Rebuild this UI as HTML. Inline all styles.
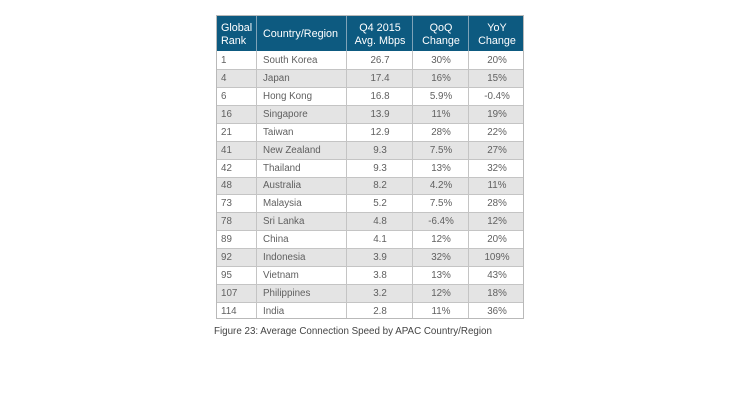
<!DOCTYPE html>
<html>
<head>
<meta charset="utf-8">
<style>
  html,body{margin:0;padding:0;background:#fff;}
  body{width:740px;height:400px;position:relative;overflow:hidden;font-family:"Liberation Sans",sans-serif;}
  .tbl{position:absolute;left:216px;top:15px;width:308px;height:304px;border:1px solid #b9b9b9;box-sizing:border-box;}
  .hdr{position:absolute;left:0;top:0;width:100%;height:35px;background:#0d5a80;}
  .cell{position:absolute;display:flex;align-items:center;box-sizing:border-box;font-size:9.8px;color:#606060;}
  .h{color:#fff;font-size:10.8px;line-height:13px;padding-top:2px;}
  .row{position:absolute;left:0;width:100%;box-sizing:border-box;border-top:1px solid #c4c4c4;}
  .g{background:#e4e4e4;}
  .vl{position:absolute;top:0;width:1px;height:100%;background:#c4c4c4;}
  .vlh{position:absolute;top:0;width:1px;height:35px;background:#7fa3b8;}
  .cap{position:absolute;left:214px;top:326px;font-size:9.8px;color:#444;}
</style>
</head>
<body>
<div class="tbl" id="t"></div>
<div class="cap">Figure 23: Average Connection Speed by APAC Country/Region</div>
<script>
(function(){
  var t=document.getElementById('t');
  var cols=[0,40,130,196,252,308];
  var h='';
  h+='<div class="hdr"></div>';
  var rows=[
   ["1","South Korea","26.7","30%","20%"],
   ["4","Japan","17.4","16%","15%"],
   ["6","Hong Kong","16.8","5.9%","-0.4%"],
   ["16","Singapore","13.9","11%","19%"],
   ["21","Taiwan","12.9","28%","22%"],
   ["41","New Zealand","9.3","7.5%","27%"],
   ["42","Thailand","9.3","13%","32%"],
   ["48","Australia","8.2","4.2%","11%"],
   ["73","Malaysia","5.2","7.5%","28%"],
   ["78","Sri Lanka","4.8","-6.4%","12%"],
   ["89","China","4.1","12%","20%"],
   ["92","Indonesia","3.9","32%","109%"],
   ["95","Vietnam","3.8","13%","43%"],
   ["107","Philippines","3.2","12%","18%"],
   ["114","India","2.8","11%","36%"]
  ];
  var rh=269/15;
  for(var i=0;i<rows.length;i++){
    var top=35+i*rh;
    h+='<div class="row'+(i%2==1?' g':'')+'" style="top:'+top+'px;height:'+rh+'px;'+(i==0?'border-top:none;':'')+'"></div>';
    for(var c=0;c<5;c++){
      var al=c<2?'justify-content:flex-start;padding-left:'+(c==0?4:6)+'px;':'justify-content:center;';
      h+='<div class="cell" style="left:'+cols[c]+'px;width:'+(cols[c+1]-cols[c])+'px;top:'+(top+0.5)+'px;height:'+rh+'px;'+al+'">'+rows[i][c]+'</div>';
    }
  }
  for(var c=1;c<5;c++){
    h+='<div class="vl" style="left:'+(cols[c]-1)+'px"></div>';
    h+='<div class="vlh" style="left:'+(cols[c]-1)+'px"></div>';
  }
  var hd=["Global<br>Rank","Country/Region","Q4 2015<br>Avg. Mbps","QoQ<br>Change","YoY<br>Change"];
  for(var c=0;c<5;c++){
    var al=c<2?'justify-content:flex-start;text-align:left;padding-left:'+(c==0?4:6)+'px;':'justify-content:center;text-align:center;';
    h+='<div class="cell h" style="left:'+cols[c]+'px;width:'+(cols[c+1]-cols[c])+'px;top:0;height:35px;'+al+'">'+hd[c]+'</div>';
  }
  t.innerHTML=h;
})();
</script>
</body>
</html>
